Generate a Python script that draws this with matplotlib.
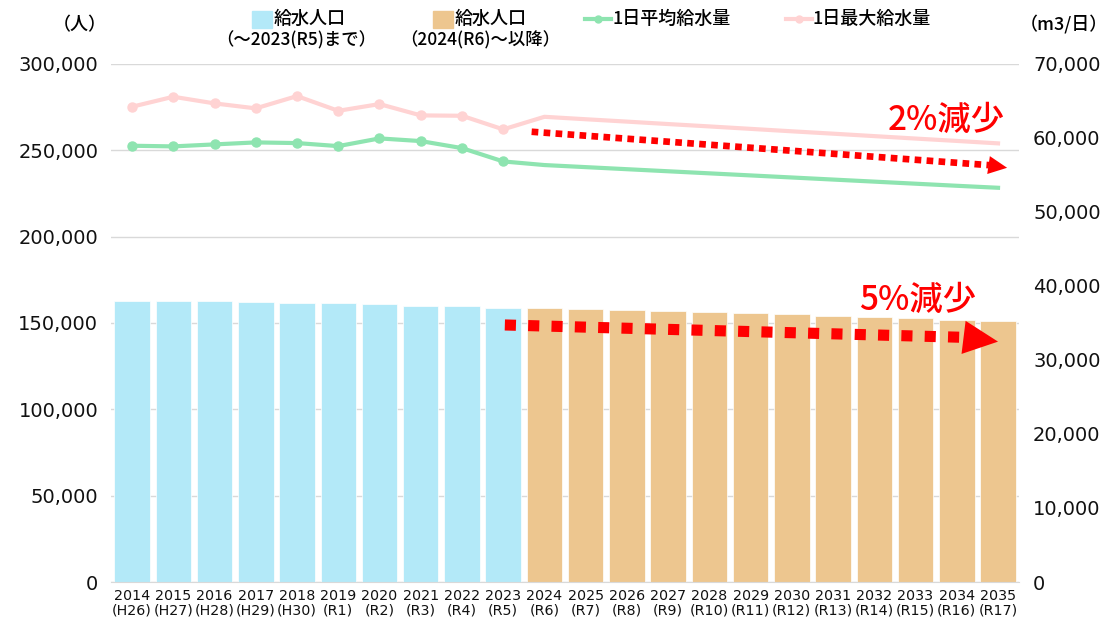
import matplotlib
matplotlib.use("Agg")
import matplotlib.pyplot as plt
from matplotlib.patches import Rectangle
from matplotlib.lines import Line2D
from matplotlib.ticker import FuncFormatter, MultipleLocator

plt.rcParams['font.family'] = ['Noto Sans CJK JP', 'DejaVu Sans']
JP = ['Noto Sans CJK JP', 'DejaVu Sans']
NUM = ['DejaVu Sans']

years = ['2014', '2015', '2016', '2017', '2018', '2019', '2020', '2021', '2022', '2023',
         '2024', '2025', '2026', '2027', '2028', '2029', '2030', '2031', '2032', '2033', '2034', '2035']
eras = ['(H26)', '(H27)', '(H28)', '(H29)', '(H30)', '(R1)', '(R2)', '(R3)', '(R4)', '(R5)',
        '(R6)', '(R7)', '(R8)', '(R9)', '(R10)', '(R11)', '(R12)', '(R13)', '(R14)', '(R15)', '(R16)', '(R17)']

# 給水人口 (people)
pop_actual = [162700, 162700, 162600, 162200, 161600, 161500, 161000, 159900, 159800, 158700]
pop_forecast = [158800, 158300, 157700, 157000, 156400, 155800, 155200, 154200, 153700, 152900, 151900, 151200]

# 1日平均給水量 (m3/day)
avg_actual = [58950, 58860, 59130, 59400, 59310, 58900, 59940, 59580, 58630, 56830]
avg_forecast = [56340, 56060, 55780, 55500, 55220, 54940, 54660, 54380, 54100, 53820, 53540, 53270]

# 1日最大給水量 (m3/day)
max_actual = [64220, 65570, 64670, 64000, 65660, 63670, 64580, 63050, 63000, 61160]
max_forecast = [62860, 62530, 62210, 61880, 61560, 61230, 60900, 60580, 60250, 59920, 59600, 59270]

C_BLUE = '#B3E9F8'
C_TAN = '#EDC68F'
C_GREEN = '#8EE4B0'
C_PINK = '#FFD3D3'
C_RED = '#FF0000'

fig = plt.figure(figsize=(11.10, 6.21), dpi=100)
ax = fig.add_axes([0.1004, 0.0628, 0.8173, 0.8342])
ax2 = ax.twinx()

n_act = len(pop_actual)
x_act = list(range(n_act))
x_fc = list(range(n_act, n_act + len(pop_forecast)))

ax.bar(x_act, pop_actual, width=0.86, color=C_BLUE, edgecolor='white', linewidth=0.5, zorder=2)
ax.bar(x_fc, pop_forecast, width=0.86, color=C_TAN, edgecolor='white', linewidth=0.5, zorder=2)

ax.set_xlim(-0.5, len(years) - 0.5)
ax.set_ylim(0, 300000)
ax.yaxis.set_major_locator(MultipleLocator(50000))
ax.yaxis.set_major_formatter(FuncFormatter(lambda v, p: f'{int(v):,}'))
ax.set_axisbelow(True)
ax.grid(axis='y', color='#D9D9D9', linewidth=1)
for s in ['top', 'right', 'left']:
    ax.spines[s].set_visible(False)
ax.spines['bottom'].set_color('#D9D9D9')
ax.set_xticks(range(len(years)))
ax.set_xticklabels([f'{y}\n{e}' for y, e in zip(years, eras)], fontsize=10.3,
                   linespacing=1.05, family=NUM)
ax.tick_params(axis='x', length=0, pad=5, colors='#111111')
ax.tick_params(axis='y', length=0, labelsize=14, pad=9.5, colors='#111111')
for t in ax.get_yticklabels():
    t.set_family(NUM)

ax2.set_ylim(0, 70000)
ax2.yaxis.set_major_locator(MultipleLocator(10000))
ax2.yaxis.set_major_formatter(FuncFormatter(lambda v, p: f'{int(v):,}'))
ax2.tick_params(axis='y', length=0, labelsize=14, pad=10.4, colors='#111111')
for t in ax2.get_yticklabels():
    t.set_family(NUM)
for s in ['top', 'right', 'left', 'bottom']:
    ax2.spines[s].set_visible(False)

# lines: actual with markers, forecast without
ax2.plot(x_act, max_actual, color=C_PINK, lw=3, marker='o', ms=6.5, zorder=3)
ax2.plot([x_act[-1]] + x_fc, [max_actual[-1]] + max_forecast, color=C_PINK, lw=3, zorder=3)
ax2.plot(x_act, avg_actual, color=C_GREEN, lw=3, marker='o', ms=6.5, zorder=3)
ax2.plot([x_act[-1]] + x_fc, [avg_actual[-1]] + avg_forecast, color=C_GREEN, lw=3, zorder=3)

# dotted red trend arrows
# upper (water volume, right axis)
ax2.plot([9.69, 20.78], [60840, 56330], color=C_RED, lw=4.8, linestyle=(0, (1, 0.8)), zorder=5)
ax2.annotate('', xy=(21.22, 55970), xytext=(20.78, 56330),
             arrowprops=dict(arrowstyle='-|>,head_length=1.35,head_width=0.65',
                             color=C_RED, lw=0, shrinkA=0, shrinkB=0), zorder=5)
ax2.text(19.74, 62400, '2%減少', color=C_RED, fontsize=24, ha='center', va='center',
         fontweight='medium', zorder=6)

# lower (population, left axis)
ax.plot([9.04, 20.15], [148850, 141700], color=C_RED, lw=8, linestyle=(0, (1, 1.1)), zorder=5)
ax.annotate('', xy=(21.0, 139200), xytext=(20.15, 141700),
            arrowprops=dict(arrowstyle='-|>,head_length=2.5,head_width=1.2',
                            color=C_RED, lw=0, shrinkA=0, shrinkB=0), zorder=5)
ax.text(19.06, 163300, '5%減少', color=C_RED, fontsize=24, ha='center', va='center',
        fontweight='medium', zorder=6)

# overlay for legend & unit labels (pixel coordinates)
ov = fig.add_axes([0, 0, 1, 1], facecolor='none')
ov.set_xlim(0, 1110)
ov.set_ylim(621, 0)
ov.axis('off')

ov.text(80, 25, '（人）', fontsize=13, ha='center', va='center', fontweight='medium')
ov.text(1064, 25, '（m3/日）', fontsize=13, ha='center', va='center', fontweight='medium')

lf = 13
ov.add_patch(Rectangle((252, 11), 20, 17, color=C_BLUE))
ov.text(274, 19, '給水人口', fontsize=lf, ha='left', va='center', fontweight='medium')
ov.text(296, 40, '（～2023(R5)まで）', fontsize=12.5, ha='center', va='center', fontweight='medium')
ov.add_patch(Rectangle((433, 11), 20, 17, color=C_TAN))
ov.text(455, 19, '給水人口', fontsize=lf, ha='left', va='center', fontweight='medium')
ov.text(480, 40, '（2024(R6)～以降）', fontsize=12.5, ha='center', va='center', fontweight='medium')
ov.add_line(Line2D([585, 611], [19, 19], color=C_GREEN, lw=3))
ov.add_line(Line2D([598], [19], color=C_GREEN, marker='o', ms=5))
ov.text(612, 19, '1日平均給水量', fontsize=lf, ha='left', va='center', fontweight='medium')
ov.add_line(Line2D([786, 812], [19, 19], color=C_PINK, lw=3))
ov.add_line(Line2D([799], [19], color=C_PINK, marker='o', ms=5))
ov.text(813, 19, '1日最大給水量', fontsize=lf, ha='left', va='center', fontweight='medium')

fig.savefig('out.png', dpi=100, facecolor='white')
